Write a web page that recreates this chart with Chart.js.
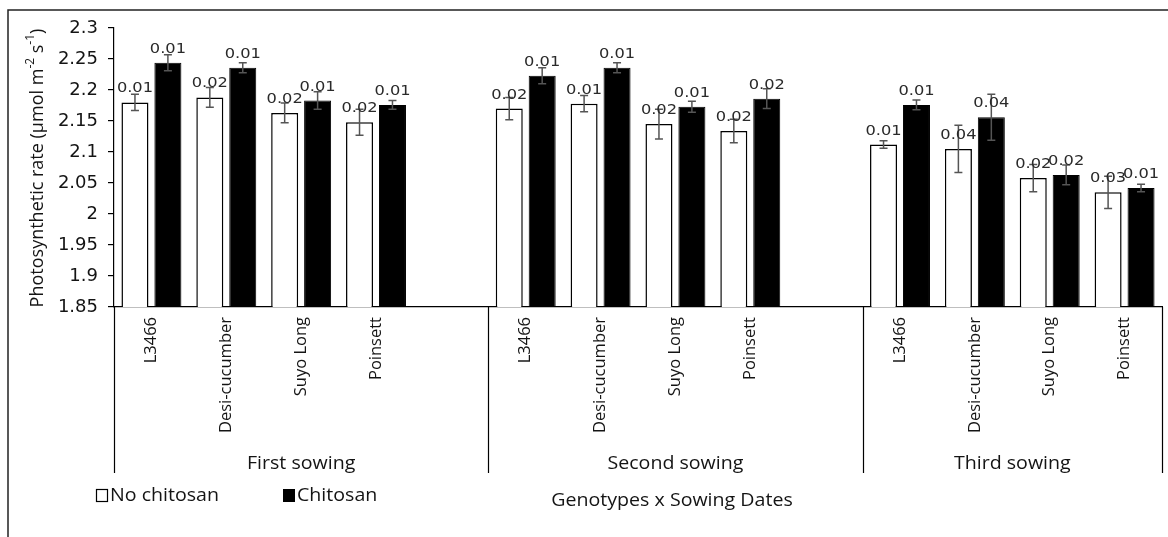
<!DOCTYPE html>
<html>
<head>
<meta charset="utf-8">
<script src="https://cdn.jsdelivr.net/npm/chart.js@4.4.1/dist/chart.umd.min.js"></script>
<style>
  html, body { margin: 0; padding: 0; background: #fff; }
  #wrap { width: 1168px; height: 537px; position: relative; }
</style>
</head>
<body>
<div id="wrap"><canvas id="c" width="1168" height="537"></canvas></div>
<script>
// Genotypes per sowing date; an empty slot separates the sowing groups
const categories = [
  'L3466', 'Desi-cucumber', 'Suyo Long', 'Poinsett', '',
  'L3466', 'Desi-cucumber', 'Suyo Long', 'Poinsett', '',
  'L3466', 'Desi-cucumber', 'Suyo Long', 'Poinsett'
];
const sowingGroups = ['First sowing', 'Second sowing', 'Third sowing'];
const groupStarts = [0, 5, 10];

// Photosynthetic rate (µmol m-2 s-1)
const noChitosan = [2.180, 2.188, 2.163, 2.148, null, 2.170, 2.178, 2.145, 2.134, null, 2.112, 2.105, 2.058, 2.035];
const chitosan   = [2.244, 2.236, 2.183, 2.176, null, 2.223, 2.236, 2.173, 2.186, null, 2.176, 2.156, 2.063, 2.042];

// Standard errors (also printed above each bar)
const noChitosanSE = [0.013, 0.016, 0.016, 0.021, null, 0.018, 0.013, 0.024, 0.019, null, 0.006, 0.038, 0.022, 0.026];
const chitosanSE   = [0.013, 0.008, 0.014, 0.007, null, 0.013, 0.008, 0.009, 0.016, null, 0.008, 0.037, 0.016, 0.006];

const yTickValues = [1.85, 1.9, 1.95, 2, 2.05, 2.1, 2.15, 2.2, 2.25, 2.3];
const yTickLabels = ['1.85', '1.9', '1.95', '2', '2.05', '2.1', '2.15', '2.2', '2.25', '2.3'];

const seriesNames = ['No chitosan', 'Chitosan'];
const xAxisTitle = 'Genotypes x Sowing Dates';

const errorSets = [noChitosanSE, chitosanSE];
const TEXT = '#141414';

// draws horizontally widened text centred/aligned at (x, y)
function wideText(ctx, str, x, y, align, stretch) {
  ctx.save();
  ctx.translate(x, y);
  ctx.scale(stretch, 1);
  ctx.textAlign = align;
  ctx.fillText(str, 0, 0);
  ctx.restore();
}

const decor = {
  id: 'decor',
  afterDatasetsDraw(chart) {
    const ctx = chart.ctx;
    const y = chart.scales.y;
    ctx.save();
    // error bars and SE labels
    chart.data.datasets.forEach((ds, i) => {
      const meta = chart.getDatasetMeta(i);
      const se = errorSets[i];
      meta.data.forEach((el, j) => {
        const v = ds.data[j];
        if (v == null) return;
        const e = se[j];
        const x = el.x;
        const yt = y.getPixelForValue(v + e);
        const yb = y.getPixelForValue(v - e);
        ctx.strokeStyle = '#555';
        ctx.lineWidth = 1.5;
        ctx.beginPath();
        ctx.moveTo(x, yt); ctx.lineTo(x, yb);
        ctx.moveTo(x - 4, yt); ctx.lineTo(x + 4, yt);
        ctx.moveTo(x - 4, yb); ctx.lineTo(x + 4, yb);
        ctx.stroke();
        ctx.fillStyle = '#2a2a2a';
        ctx.font = '14.5px "DejaVu Sans"';
        ctx.textBaseline = 'alphabetic';
        wideText(ctx, e.toFixed(2), x, el.y - 10, 'center', 1.12);
      });
    });
    ctx.restore();
  },
  afterDraw(chart) {
    const ctx = chart.ctx;
    const xs = chart.scales.x;
    const area = chart.chartArea;
    const catW = (xs.right - xs.left) / categories.length;
    const sepBottom = 473;
    ctx.save();

    // group separators and group labels
    const bounds = groupStarts.concat([categories.length]);
    ctx.strokeStyle = '#000';
    ctx.lineWidth = 1.2;
    bounds.forEach(b => {
      const px = Math.round(xs.left + b * catW) + 0.5;
      ctx.beginPath();
      ctx.moveTo(px, area.bottom);
      ctx.lineTo(px, sepBottom);
      ctx.stroke();
    });
    ctx.fillStyle = TEXT;
    ctx.font = '17.5px "Open Sans"';
    ctx.textBaseline = 'middle';
    sowingGroups.forEach((g, k) => {
      const a = xs.left + groupStarts[k] * catW;
      const b = xs.left + bounds[k + 1] * catW;
      wideText(ctx, g, (a + b) / 2, 464, 'center', 1.12);
    });

    // x axis title
    wideText(ctx, xAxisTitle, 672, 501, 'center', 1.12);

    // legend
    ctx.lineWidth = 1.2;
    ctx.strokeStyle = '#000';
    ctx.fillStyle = '#fff';
    ctx.fillRect(96, 489, 11, 12);
    ctx.strokeRect(96.5, 489.5, 11, 12);
    ctx.fillStyle = '#000';
    ctx.fillRect(283, 489, 12, 13);
    ctx.fillStyle = TEXT;
    wideText(ctx, seriesNames[0], 110, 496, 'left', 1.12);
    wideText(ctx, seriesNames[1], 297, 496, 'left', 1.12);

    // y axis title with superscripts
    ctx.save();
    ctx.translate(38, 168);
    ctx.rotate(-Math.PI / 2);
    const base = '18px "Open Sans"';
    const sup = '12px "Open Sans"';
    const parts = [
      ['Photosynthetic rate (\u00b5mol m', base, 0],
      ['-2', sup, -7],
      [' s', base, 0],
      ['-1', sup, -7],
      [')', base, 0]
    ];
    let total = 0;
    parts.forEach(p => { ctx.font = p[1]; total += ctx.measureText(p[0]).width; });
    let cx = -total / 2;
    ctx.textAlign = 'left';
    ctx.textBaseline = 'middle';
    parts.forEach(p => {
      ctx.font = p[1];
      ctx.fillText(p[0], cx, p[2]);
      cx += ctx.measureText(p[0]).width;
    });
    ctx.restore();

    // outer frame
    ctx.strokeStyle = '#222';
    ctx.lineWidth = 1.5;
    ctx.beginPath();
    ctx.moveTo(8, 537);
    ctx.lineTo(8, 10);
    ctx.lineTo(1168, 10);
    ctx.stroke();
    ctx.restore();
  }
};

new Chart(document.getElementById('c'), {
  type: 'bar',
  data: {
    labels: categories,
    datasets: [
      { label: seriesNames[0], data: noChitosan, backgroundColor: '#ffffff', borderColor: '#000000', borderWidth: 1.5 },
      { label: seriesNames[1], data: chitosan, backgroundColor: '#000000', borderColor: '#000000', borderWidth: 1 }
    ]
  },
  options: {
    responsive: false,
    animation: false,
    events: [],
    categoryPercentage: 0.88,
    barPercentage: 0.82,
    layout: { padding: { left: 0, top: 28, right: 6, bottom: 0 } },
    plugins: { legend: { display: false }, tooltip: { enabled: false } },
    scales: {
      y: {
        min: 1.85,
        max: 2.3,
        afterFit(s) { s.width = 114; },
        afterBuildTicks(s) { s.ticks = yTickValues.map(v => ({ value: v })); },
        ticks: {
          padding: 10,
          color: TEXT,
          font: { family: 'DejaVu Sans', size: 18 },
          callback: (v) => yTickLabels[yTickValues.findIndex(t => Math.abs(t - v) < 1e-9)]
        },
        grid: { drawOnChartArea: false, drawTicks: true, tickLength: 6, color: '#000', lineWidth: 1.2 },
        border: { display: true, color: '#000', width: 1.2 }
      },
      x: {
        afterFit(s) { s.height = 537 - 307; },
        ticks: {
          autoSkip: false,
          minRotation: 90,
          maxRotation: 90,
          padding: 10,
          color: TEXT,
          font: { family: 'Open Sans', size: 16.5 }
        },
        grid: { display: false, drawTicks: false },
        border: { display: true, color: '#000', width: 1.2 }
      }
    }
  },
  plugins: [decor]
});
</script>
</body>
</html>
